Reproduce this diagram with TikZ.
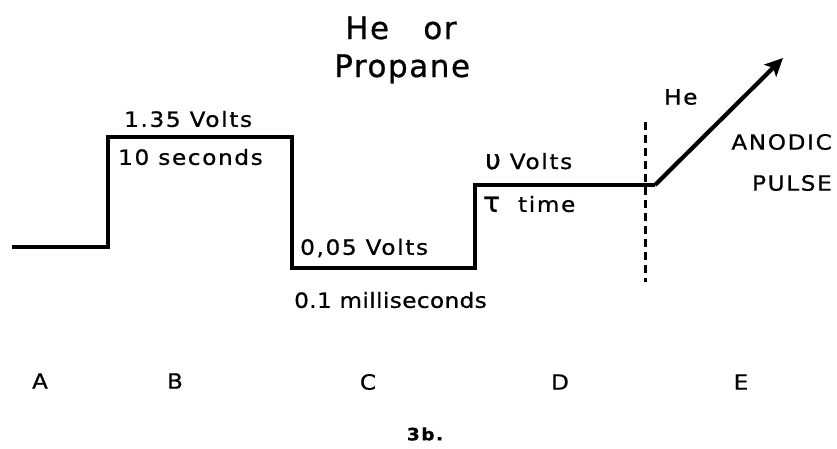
\documentclass[tikz,border=0pt]{standalone}
\usepackage{fontspec}
\setmainfont{DejaVu Sans}[LetterSpace=8,FakeStretch=1.1,FakeBold=0.8]
\newfontfamily\bigfont{DejaVu Sans}[LetterSpace=5,FakeBold=0.8]
\newfontfamily\greekfont{DejaVu Sans}[FakeBold=1.2]
\usetikzlibrary{arrows.meta}
\begin{document}
\begin{tikzpicture}[x=1pt,y=-1pt,
  wave/.style={line width=4.2pt,line join=miter},
  lbl/.style={inner sep=0pt,font=\fontsize{21}{23}\selectfont},
  big/.style={inner sep=0pt,font=\bigfont\fontsize{31}{33}\selectfont}]
\useasboundingbox (0,0) rectangle (837,448);
\coordinate (p0) at (12,247);
\coordinate (p1) at (108,247);
\coordinate (p2) at (108,137);
\coordinate (p3) at (292,137);
\coordinate (p4) at (292,268);
\coordinate (p5) at (475,268);
\coordinate (p6) at (475,185);
\coordinate (p7) at (655,185);
\coordinate (p8) at (783,58);
\coordinate (d1) at (645,122);
\coordinate (d2) at (645,282);
\draw[wave] (p0) -- (p1) -- (p2) -- (p3) -- (p4) -- (p5) -- (p6) -- (p7);
\draw[wave,-{Stealth[length=18pt,width=17pt,inset=4pt]}] (p7) -- (p8);
\draw[line width=3pt,dash pattern=on 8pt off 5pt] (d1) -- (d2);
\node[big,anchor=base west] (heor) at (345,39) {He\ \ \ or};
\node[big,anchor=base west] (prop) at (334,77) {Propane};
\node[lbl,anchor=west] (v135) at (124,119) {1.35 Volts};
\node[lbl,anchor=west] (s10) at (118,157) {10 seconds};
\node[lbl,anchor=west] (v005) at (300,248) {0,05 Volts};
\node[lbl,anchor=west,font=\fontsize{21}{23}\selectfont\addfontfeature{LetterSpace=2}] (ms) at (294,300) {0.1 milliseconds};
\node[lbl,anchor=base west] (vv) at (485,169) {{\greekfont\fontsize{27}{27}\selectfont υ}\ Volts};
\node[lbl,anchor=west] (tt) at (483,204) {{\greekfont\fontsize{28}{28}\selectfont τ}\ \ time};
\node[lbl,anchor=west] (he) at (664,97) {He};
\node[lbl,anchor=east] (an) at (832,142) {ANODIC};
\node[lbl,anchor=east] (pu) at (832,183) {PULSE};
\node[lbl] (A) at (40,381) {A};
\node[lbl] (B) at (175,381) {B};
\node[lbl] (C) at (368,382) {C};
\node[lbl] (D) at (560,382) {D};
\node[lbl] (E) at (741,382) {E};
\node[inner sep=0pt,font=\fontsize{17}{19}\selectfont\bfseries] (cap) at (425,434) {3b.};
\end{tikzpicture}
\end{document}
